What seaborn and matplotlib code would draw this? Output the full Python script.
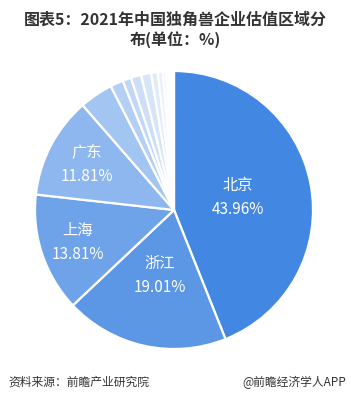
import numpy as np
import matplotlib
matplotlib.use("Agg")
import matplotlib.pyplot as plt
import seaborn as sns

regions = ["北京", "浙江", "上海", "广东", "其他1", "其他2", "其他3", "其他4", "其他5", "其他6", "其他7", "其他8", "其他9"]
values = [43.96, 19.01, 13.81, 11.81, 3.90, 1.50, 1.00, 1.20, 1.16, 0.78, 0.58, 0.40, 0.89]
shown = ["北京", "浙江", "上海", "广东"]
title = "图表5：2021年中国独角兽企业估值区域分\n布(单位：%)"
source = "资料来源：前瞻产业研究院"
brand = "@前瞻经济学人APP"

sns.set_theme(style="white")
plt.rcParams["font.family"] = ["Noto Sans CJK SC", "DejaVu Sans"]

colors = ["#4287E1", "#5B97E5", "#6FA3E9", "#8DB7EE", "#A3C5F1", "#B3CFF3",
          "#C0D7F5", "#CCDFF7", "#D6E5F8", "#E0EBFA", "#E8F0FB", "#F0F5FD", "#FFFFFF"]

W, H = 351, 403
fig = plt.figure(figsize=(W / 100, H / 100), dpi=100)
cx, cy, r = 174, 210, 139
lim = 1.02
size = 2 * r * lim
ax = fig.add_axes([(cx - size / 2) / W, (H - cy - size / 2) / H, size / W, size / H])

wedges, _ = ax.pie(values, colors=colors, startangle=90, counterclock=False,
                   wedgeprops=dict(edgecolor="white", linewidth=1.6))
ax.set_xlim(-lim, lim)
ax.set_ylim(-lim, lim)
ax.set_aspect("equal")
ax.axis("off")

dist = [0.47, 0.48, 0.73, 0.71]
total = sum(values)
cum = 0
for i, (name, v) in enumerate(zip(regions, values)):
    if name in shown:
        mid = (cum + v / 2) / total * 2 * np.pi
        x = dist[i] * np.sin(mid)
        y = dist[i] * np.cos(mid)
        ax.text(x, y + 0.087, name, color="white", ha="center", va="center", fontsize=11)
        ax.text(x, y - 0.087, f"{v:.2f}%", color="white", ha="center", va="center", fontsize=11)
    cum += v

fig.text(0.5, 1 - 30 / H, title, ha="center", va="center", fontsize=11.5,
         fontweight="bold", color="#333333", linespacing=1.25)
fig.text(8 / W, 1 - 382 / H, source, ha="left", va="center", fontsize=8.5, color="#333333")
fig.text(346 / W, 1 - 382 / H, brand, ha="right", va="center", fontsize=8.5, color="#333333")

fig.savefig("out.png", dpi=100)
